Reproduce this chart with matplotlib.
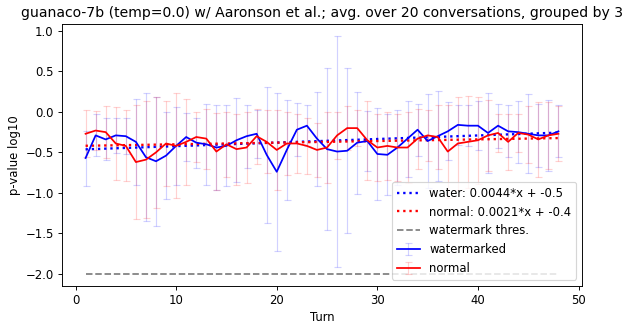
import numpy as np
import matplotlib
matplotlib.use("Agg")
import matplotlib.pyplot as plt

turns = list(range(1, 49))

water = [-0.57, -0.29, -0.34, -0.29, -0.30, -0.37, -0.56, -0.61, -0.54, -0.42,
         -0.31, -0.38, -0.40, -0.44, -0.42, -0.35, -0.30, -0.27, -0.53, -0.74,
         -0.47, -0.22, -0.17, -0.33, -0.46, -0.49, -0.48, -0.38, -0.36, -0.52,
         -0.53, -0.44, -0.33, -0.22, -0.36, -0.30, -0.24, -0.16, -0.17, -0.17,
         -0.26, -0.17, -0.24, -0.25, -0.27, -0.29, -0.29, -0.24]
water_err = [0.34, 0.26, 0.26, 0.22, 0.22, 0.53, 0.79, 0.80, 0.54, 0.48,
             0.30, 0.31, 0.50, 0.53, 0.50, 0.52, 0.39, 0.30, 0.84, 0.98,
             0.62, 0.33, 0.25, 0.58, 1.00, 1.43, 1.02, 0.63, 0.37, 0.57,
             0.50, 0.46, 0.47, 0.32, 0.58, 0.56, 0.36, 0.25, 0.25, 0.30,
             0.49, 0.27, 0.32, 0.38, 0.49, 0.39, 0.44, 0.32]

normal = [-0.27, -0.23, -0.25, -0.39, -0.42, -0.62, -0.59, -0.50, -0.39, -0.42,
          -0.37, -0.31, -0.33, -0.49, -0.40, -0.46, -0.44, -0.30, -0.37, -0.47,
          -0.39, -0.39, -0.42, -0.47, -0.44, -0.29, -0.20, -0.20, -0.35, -0.44,
          -0.42, -0.44, -0.44, -0.33, -0.29, -0.31, -0.49, -0.39, -0.37, -0.35,
          -0.29, -0.26, -0.37, -0.26, -0.28, -0.34, -0.29, -0.27]
normal_err = [0.29, 0.24, 0.32, 0.45, 0.44, 0.71, 0.72, 0.69, 0.53, 0.65,
              0.53, 0.31, 0.37, 0.48, 0.40, 0.44, 0.44, 0.34, 0.39, 0.50,
              0.39, 0.37, 0.35, 0.33, 0.44, 0.29, 0.27, 0.22, 0.49, 0.42,
              0.42, 0.41, 0.44, 0.37, 0.32, 0.40, 0.58, 0.58, 0.57, 0.54,
              0.44, 0.24, 0.35, 0.24, 0.35, 0.46, 0.41, 0.34]

threshold = -2.0
water_fit_label = "water: 0.0044*x + -0.5"
normal_fit_label = "normal: 0.0021*x + -0.4"

DPI = 84
fig = plt.figure(figsize=(632 / DPI, 329 / DPI), dpi=DPI)
ax = fig.add_axes([0.098, 0.132, 0.823, 0.795])

x = np.array(turns)
ax.errorbar(x, water, yerr=water_err, color="blue", ecolor=(0, 0, 1, 0.18),
            capsize=3, elinewidth=1, label="watermarked")
ax.errorbar(x, normal, yerr=normal_err, color="red", ecolor=(1, 0, 0, 0.18),
            capsize=3, elinewidth=1, label="normal")

mw, bw = np.polyfit(x, water, 1)
mn, bn = np.polyfit(x, normal, 1)
ax.plot(x, mw * x + bw, color="blue", linestyle=":", linewidth=2, label=water_fit_label)
ax.plot(x, mn * x + bn, color="red", linestyle=":", linewidth=2, label=normal_fit_label)
ax.plot(x, [threshold] * len(x), color="gray", linestyle="--", label="watermark thres.")

ax.set_title("guanaco-7b (temp=0.0) w/ Aaronson et al.; avg. over 20 conversations, grouped by 3")
ax.set_xlabel("Turn")
ax.set_ylabel("p-value log10")
ax.set_yticks([1.0, 0.5, 0.0, -0.5, -1.0, -1.5, -2.0])
ax.legend(loc="lower right")

fig.savefig("out.png", dpi=DPI)
